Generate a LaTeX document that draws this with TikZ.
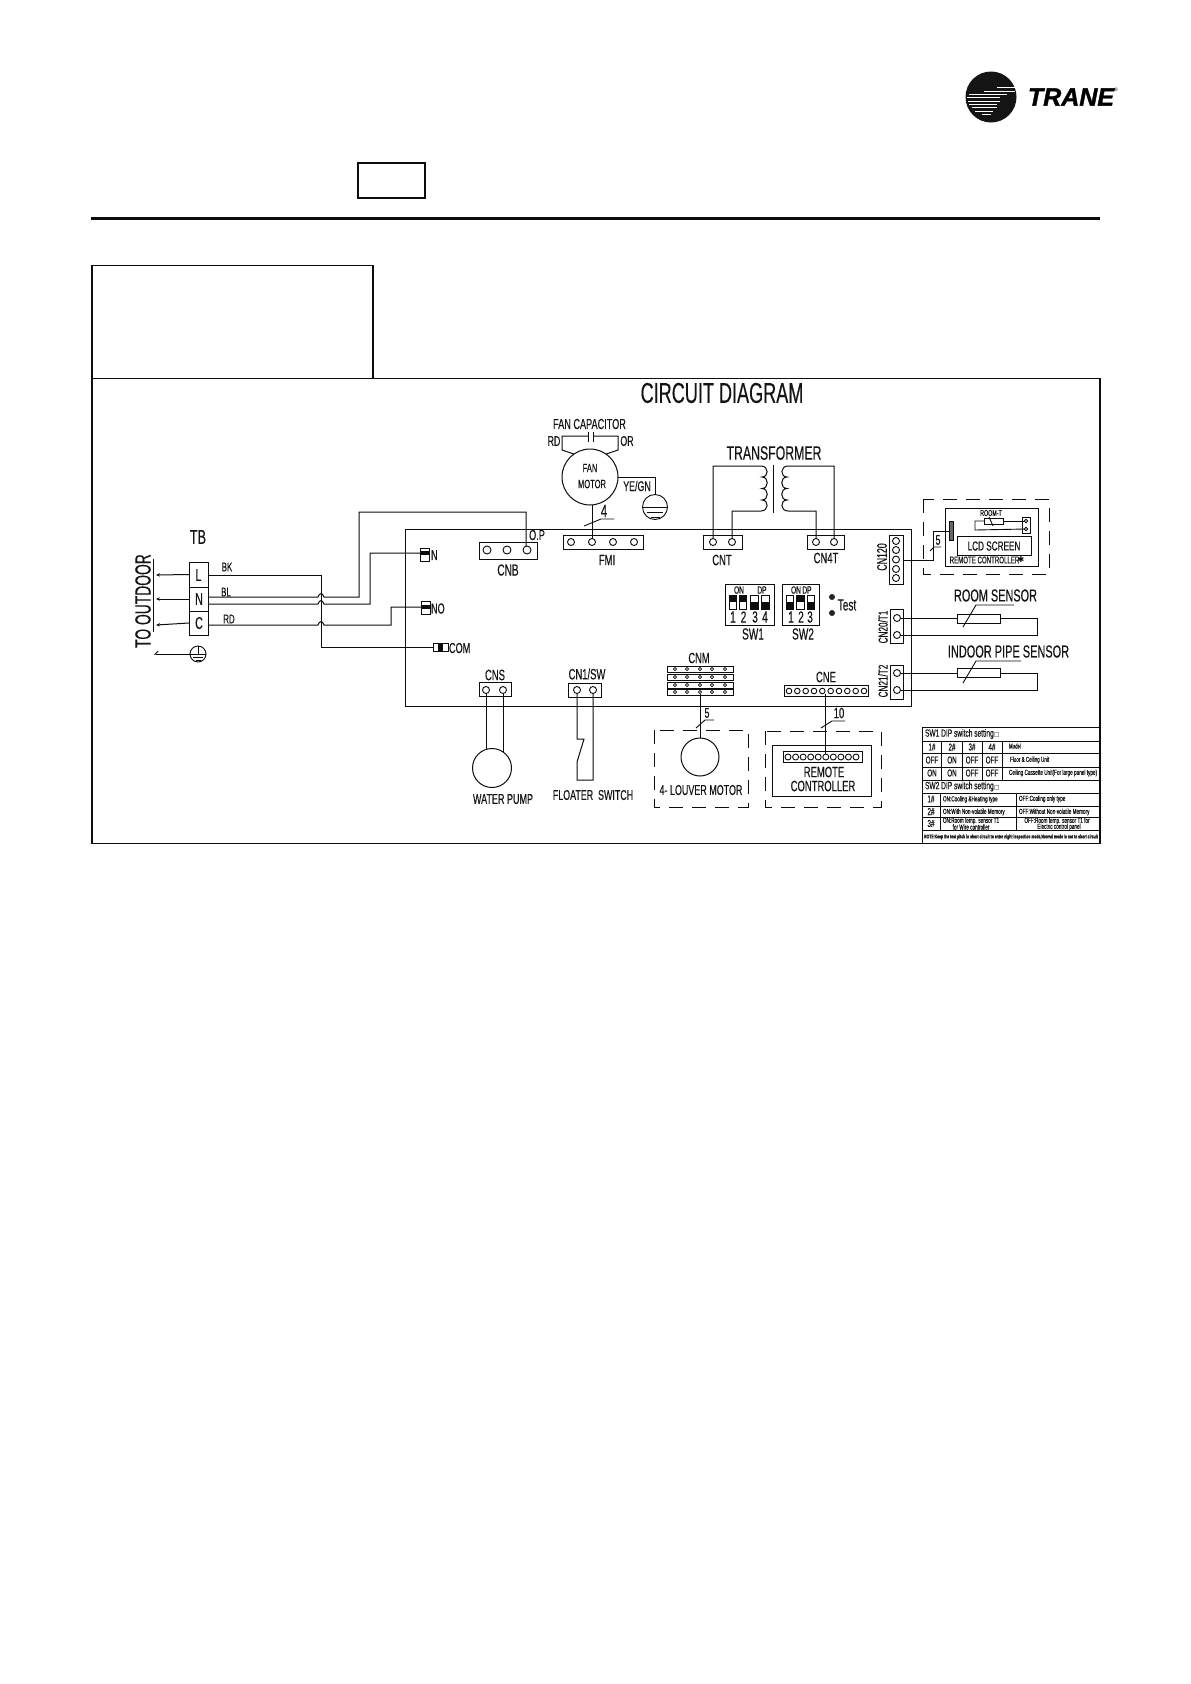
\documentclass[tikz,border=0pt]{standalone}
\usepackage{fontspec}
\usetikzlibrary{arrows.meta}
\setmainfont{Liberation Sans}
\newfontfamily\narrowf[FakeStretch=0.63,FakeBold=0.25]{Liberation Sans}
\newfontfamily\tranef[FakeBold=1.5]{Liberation Sans}
\newfontfamily\symf{DejaVu Sans}
\tikzset{
  lab/.style={inner sep=0pt,outer sep=0pt,font=\narrowf,text=black!92},
  wire/.style={draw=black!95,line width=1pt},
  frame/.style={draw=black!95,line width=1.1pt},
  dashbox/.style={draw=black!95,line width=1pt,dash pattern=on 14pt off 9pt},
  outarrow/.style={wire,-{Stealth[length=4pt,width=3.4pt]}},
  pin/.style={circle,draw=black!95,line width=0.9pt,fill=white,inner sep=0pt,outer sep=0pt},
  tinypin/.style={pin,line width=0.6pt},
  cell/.style={draw=black!95,line width=0.9pt},
  slash/.style={draw=black!95,line width=0.9pt},
  logostripe/.style={draw=white,line width=0.9pt}
}
% text node: [opts]{name}{x}{y}{size}{text}
\newcommand{\tl}[6][]{\node[lab,#1] (#2) at (#3,#4) {\fontsize{#5}{#5}\selectfont #6};}
% box node: [opts]{name}{x1}{y1}{x2}{y2}
\newcommand{\bxn}[6][]{\pgfmathsetmacro\wdbx{#5-#3}\pgfmathsetmacro\htbx{#6-#4}%
  \node[draw=black!95,line width=1pt,inner sep=0pt,outer sep=0pt,minimum width=\wdbx pt,minimum height=\htbx pt,anchor=north west,#1] (#2) at (#3,#4) {};}
% pin node: {name}{x}{y}{diameter}
\newcommand{\pinn}[4]{\node[pin,minimum size=#4pt] (#1) at (#2,#3) {};}
\newcommand{\tpin}[3]{\node[tinypin,minimum size=3.2pt] (#1) at (#2,#3) {};}
\begin{document}
\begin{tikzpicture}[x=1pt,y=-1pt]
\useasboundingbox (0,0) rectangle (1191,1684);
\fill[white] (0,0) rectangle (1191,1684);

% ---------- logo
\node[circle,fill=black!92,minimum size=51pt,inner sep=0pt] (logo) at (991,97) {};
\draw[logostripe,line width=0.6pt] (997,87.5) -- (1015,87.5);
\draw[logostripe,line width=0.7pt] (984,91) -- (1015,91);
\draw[logostripe] (969,94) -- (1007,94);
\draw[logostripe] (967,97.5) -- (1000,97.5);
\draw[logostripe] (968,101) -- (1000,101);
\draw[logostripe] (969,104) -- (997,104);
\draw[logostripe] (972,107.5) -- (997,107.5);
\draw[logostripe,line width=0.7pt] (975,111) -- (993,111);
\draw[logostripe,line width=0.6pt] (982,114) -- (991,114);
\node[inner sep=0pt] (tranetxt) at (1071,97) {\fontsize{25}{25}\selectfont\tranef\bfseries\itshape TRANE};
\node[inner sep=0pt] (tranereg) at (1116,90) {\fontsize{5}{5}\selectfont ®};

% ---------- header
\bxn[line width=1.6pt]{blankbox}{358}{163}{425}{198}
\draw[draw=black!95,line width=3pt] (91,218.5) -- (1100,218.5);

% ---------- frames
\draw[frame] (92,265.7) -- (373,265.7);
\draw[draw=black!95,line width=2pt] (373,265) -- (373,378);
\draw[frame] (92,378.5) -- (1100,378.5) -- (1100,843.5) -- (92,843.5);
\draw[draw=black!95,line width=2pt] (92,265) -- (92,844);
\tl{title}{722}{393}{28.7}{CIRCUIT DIAGRAM}

% ---------- board
\bxn{board}{405}{529}{911}{706}

% ---------- terminal block
\tl{tbtitle}{198}{537}{20}{TB}
\bxn{tbL}{189}{562}{208}{587}
\bxn{tbN}{189}{587}{208}{611}
\bxn{tbC}{189}{611}{208}{635}
\tl{tbLt}{198.5}{575}{17}{L}
\tl{tbNt}{199}{599}{17}{N}
\tl{tbCt}{199}{623}{17}{C}
\tl[rotate=90]{toout}{143}{601}{22}{TO OUTDOOR}
\draw[wire] (153,559) -- (153,632);
\coordinate (outL) at (156,575);
\coordinate (outN) at (156,599);
\coordinate (outC) at (156,625);
\draw[outarrow] (tbL.west) -- (outL);
\draw[outarrow] (tbN.west) -- (outN);
\draw[outarrow] (tbC.west) -- (outC);
\node[pin,minimum size=16pt] (gndtb) at (198,654) {};
\draw[wire,line width=0.9pt] (gndtb.north) -- (gndtb.center);
\draw[wire,line width=0.9pt] (gndtb.west) -- (gndtb.east);
\draw[wire,line width=0.9pt] (193,657.5) -- (203,657.5);
\draw[wire,line width=0.9pt] (195.5,660) -- (200.5,660);
\coordinate (outG) at (154,654);
\draw[wire,-{Straight Barb[length=3pt,width=6pt,harpoon,swap]}] (gndtb.west) -- (outG);
\tl{bk}{227}{567}{12.5}{BK}
\tl{bl}{226}{592}{12.5}{BL}
\tl{rd}{229}{619}{12.5}{RD}

% ---------- relay connectors
\bxn{connN}{420}{548}{429}{561}
\fill[black!95] (420,551) rectangle (429,555);
\tl[anchor=west]{connNt}{431}{555}{14.5}{N}
\bxn{connNO}{421}{601}{430}{614}
\fill[black!95] (421,605) rectangle (430,609);
\tl[anchor=west]{connNOt}{431}{608.5}{14.5}{NO}
\bxn{connCOM}{433}{643}{448}{651}
\fill[black!95] (438,643) rectangle (443,651);
\tl[anchor=west]{connCOMt}{449}{648}{14.5}{COM}

% ---------- CNB
\bxn{cnb}{479}{542}{537}{559}
\pinn{cnbA}{487}{550}{8}
\pinn{cnbB}{507}{550}{8}
\pinn{cnbC}{527}{550}{8}
\tl{cnbt}{508}{570}{16}{CNB}
\tl{opt}{537}{535}{14.5}{O.P}

% ---------- wires from TB
\coordinate (lend) at (208,575);
\coordinate (n1s) at (208,597);
\coordinate (n2s) at (208,604);
\coordinate (cs) at (208,625);
\draw[wire] (tbL.east |- lend) -- (321,575) -- (321,647) -- (connCOM.west);
\draw[wire] (n1s) -- (318,597) .. controls (319.5,592.5) and (322.5,592.5) .. (324,597) -- (359,597) -- (359,512) -- (526,512) -- (526,546) ;
\draw[wire] (n2s) -- (318,604) .. controls (319.5,599.5) and (322.5,599.5) .. (324,604) -- (370,604) -- (370,553) -- (connN.west |- 0,553);
\draw[wire] (cs) -- (318,625) .. controls (319.5,620.5) and (322.5,620.5) .. (324,625) -- (391,625) -- (391,607) -- (connNO.west |- 0,607);

% ---------- fan motor
\tl{fancap}{589.5}{424}{14.5}{FAN CAPACITOR}
\tl{caprd}{554}{441}{14}{RD}
\tl{capor}{627}{441}{14}{OR}
\node[circle,draw=black!95,line width=1pt,minimum size=56pt,inner sep=0pt,outer sep=0pt] (motor) at (590,477) {};
\tl{fanA}{590}{468}{12}{FAN}
\tl{fanB}{592}{484}{12}{MOTOR}
\coordinate (capA) at (588,436);
\coordinate (capB) at (593,436);
\draw[wire] (motor.125) -- (562,450) -- (562,436) -- (capA);
\draw[wire] (motor.55) -- (618,450) -- (618,436) -- (capB);
\draw[wire] (588,432) -- (588,442);
\draw[wire] (593,432) -- (593,442);
\tl{yegn}{637}{486}{14}{YE/GN}
\node[pin,minimum size=25pt] (gndm) at (655,507) {};
\draw[wire] (motor.east) -- (655,477) -- (gndm.north);
\draw[wire,line width=0.9pt] (gndm.west) -- (gndm.east);
\draw[wire,line width=0.9pt] (647,512) -- (663,512);
\draw[wire,line width=0.9pt] (650.5,517) -- (659.5,517);

% ---------- FMI
\bxn{fmi}{563}{535}{643}{549}
\pinn{fmiA}{571}{542}{7}
\pinn{fmiB}{592}{542}{7}
\pinn{fmiC}{613}{542}{7}
\pinn{fmiD}{634}{542}{7}
\tl{fmit}{607}{560}{15}{FMI}
\draw[wire] (motor.south -| fmiB) -- (fmiB);
\draw[slash] (584,526) -- (601,519) -- (614,519);
\tl{four}{604}{511}{18}{4}

% ---------- transformer
\tl{trafo}{774}{453}{19.5}{TRANSFORMER}
\bxn{cnt}{703}{535}{742}{549}
\pinn{cntA}{713}{542}{7}
\pinn{cntB}{732}{542}{7}
\tl{cntt}{722}{560}{15}{CNT}
\bxn{cnft}{807}{535}{844}{549}
\pinn{cnftA}{816}{542}{7}
\pinn{cnftB}{834}{542}{7}
\tl{cnftt}{826}{558}{15}{CN4T}
\draw[wire] (cntA) -- (713,466) -- (761,466)
  .. controls (769,466) and (769,477) .. (762,477)
  .. controls (769,477) and (769,488.5) .. (762,488.5)
  .. controls (769,488.5) and (769,500) .. (762,500)
  .. controls (769,500) and (769,511) .. (761,511)
  -- (732,511) -- (cntB);
\draw[wire] (cnftB) -- (834,466) -- (788,466)
  .. controls (780,466) and (780,477) .. (787,477)
  .. controls (780,477) and (780,488.5) .. (787,488.5)
  .. controls (780,488.5) and (780,500) .. (787,500)
  .. controls (780,500) and (780,511) .. (788,511)
  -- (816,511) -- (cnftA);
\draw[wire] (773,465) -- (773,513);

% ---------- SW1
\bxn{swa}{725}{584}{774}{625}
\tl{swaon}{739}{590}{10.5}{ON}
\tl{swadp}{762}{590}{10.5}{DP}
\bxn[line width=0.8pt]{swaA}{729}{595}{736}{609}
\bxn[line width=0.8pt]{swaB}{739}{595}{746}{609}
\bxn[line width=0.8pt]{swaC}{750}{595}{758}{609}
\bxn[line width=0.8pt]{swaD}{761}{595}{769}{609}
\fill[black!95] (729,595) rectangle (736,602);
\fill[black!95] (739,595) rectangle (746,602);
\fill[black!95] (750,602) rectangle (758,609);
\fill[black!95] (761,602) rectangle (769,609);
\tl{swan1}{733}{617}{16}{1}
\tl{swan2}{743.5}{617}{16}{2}
\tl{swan3}{755}{617}{16}{3}
\tl{swan4}{765}{617}{16}{4}
\tl{swat}{753}{634}{16}{SW1}

% ---------- SW2
\bxn{swb}{782}{584}{819}{625}
\tl{swbon}{796}{590}{10.5}{ON}
\tl{swbdp}{807}{590}{10.5}{DP}
\bxn[line width=0.8pt]{swbA}{786}{595}{793}{609}
\bxn[line width=0.8pt]{swbB}{796}{595}{804}{609}
\bxn[line width=0.8pt]{swbC}{807}{595}{814}{609}
\fill[black!95] (786,602) rectangle (793,609);
\fill[black!95] (796,595) rectangle (804,602);
\fill[black!95] (807,602) rectangle (814,609);
\tl{swbn1}{791}{617}{16}{1}
\tl{swbn2}{801}{617}{16}{2}
\tl{swbn3}{810}{617}{16}{3}
\tl{swbt}{803}{634}{16}{SW2}
\node[circle,fill=black!85,minimum size=6pt,inner sep=0pt] (testA) at (832,597) {};
\node[circle,fill=black!85,minimum size=6pt,inner sep=0pt] (testB) at (832,613) {};
\tl{testt}{847}{605}{16}{Test}

% ---------- CN120 and LCD remote
\bxn{cnot}{889}{535}{903}{584}
\pinn{cnotA}{896}{541}{7}
\pinn{cnotB}{896}{550}{7}
\pinn{cnotC}{896}{559.5}{7}
\pinn{cnotD}{896}{569}{7}
\pinn{cnotE}{896}{578}{7}
\tl[rotate=90]{cnott}{882}{557}{14}{CN120}
\draw[dashbox] (923,499) rectangle (1049,574);
\bxn{lcdbox}{945}{508}{1038}{566}
\bxn{lcd}{957}{536}{1031}{555}
\tl{lcdt}{994}{546}{13}{LCD SCREEN}
\tl{remc}{984.5}{560}{9.7}{REMOTE CONTROLLER}
\node[inner sep=0pt] (remstar) at (1021,560) {\fontsize{8}{8}\selectfont\symf ✱};
\bxn[fill=black!60,line width=0.6pt]{lcdconn}{949}{521}{953}{540}
\draw[wire] (cnot.east |- 0,560) -- (933,560) -- (933,531) -- (lcdconn.west |- 0,531);
\draw[slash] (930,551) -- (934,547) -- (941,547);
\tl{fivea}{938}{540}{14}{5}
\tl{roomt}{991}{513}{8.5}{ROOM-T}
\bxn[line width=0.9pt]{thm}{984}{518}{1003}{524}
\bxn[line width=0.8pt]{thmc}{1022}{517}{1030}{533}
\pinn{thmcA}{1026}{521}{3.6}
\pinn{thmcB}{1026}{529}{3.6}
\draw[wire,line width=0.9pt] (thm.west) -- (975,521) -- (975,530) -- (thmcB);
\draw[wire,line width=0.9pt] (thm.east) -- (thmcA);
\draw[slash] (989,517) -- (993,526);

% ---------- room sensor
\tl{roomst}{995.5}{595.5}{17.3}{ROOM SENSOR}
\bxn{cnta}{890}{609}{903}{643}
\pinn{cntaA}{897}{618}{7}
\pinn{cntaB}{897}{635}{7}
\tl[rotate=90]{cntat}{883}{627}{13}{CN20/T1}
\bxn{rsens}{957}{614}{1000}{623}
\draw[wire] (cntaA) -- (rsens.west |- cntaA);
\draw[wire] (rsens.east |- cntaA) -- (1037,618) -- (1037,635) -- (cntaB);
\draw[slash] (1014,605) -- (976,605) -- (963,627);

% ---------- pipe sensor
\tl{pipest}{1008.5}{651.5}{17.4}{INDOOR PIPE SENSOR}
\bxn{cntb}{890}{665}{903}{699}
\pinn{cntbA}{897}{673}{7}
\pinn{cntbB}{897}{690}{7}
\tl[rotate=90]{cntbt}{883}{681}{13}{CN21/T2}
\bxn{psens}{957}{668}{1000}{677}
\draw[wire] (cntbA) -- (psens.west |- cntbA);
\draw[wire] (psens.east |- cntbA) -- (1037,673) -- (1037,690) -- (cntbB);
\draw[slash] (1021,661) -- (976,661) -- (963,683);

% ---------- CNS / pump
\bxn{cns}{479}{682}{511}{696}
\pinn{cnsA}{486}{690}{7}
\pinn{cnsB}{503}{690}{7}
\tl{cnst}{495}{675}{15}{CNS}
\node[circle,draw=black!95,line width=1pt,minimum size=39pt,inner sep=0pt,outer sep=0pt] (pump) at (492,768) {};
\draw[wire] (cnsA) -- (486,749.5);
\draw[wire] (cnsB) -- (503,752);
\tl{pumpt}{503}{799}{14.3}{WATER PUMP}

% ---------- floater
\bxn{cnsw}{568}{683}{601}{697}
\pinn{cnswA}{577}{690}{7}
\pinn{cnswB}{593}{690}{7}
\tl{cnswt}{587}{674}{15}{CN1/SW}
\draw[wire] (cnswA) -- (577,739) -- (584,739) -- (577,762) -- (577,780) -- (593,780) -- (cnswB);
\tl{floatt}{593}{795}{14.1}{FLOATER\ \ SWITCH}

% ---------- CNM / louver
\bxn[line width=0.8pt]{cnmA}{667}{666}{733}{672}
\bxn[line width=0.8pt]{cnmB}{667}{674}{733}{680}
\bxn[line width=0.8pt]{cnmC}{667}{682}{733}{688}
\bxn[line width=0.8pt]{cnmD}{667}{689}{733}{695}
\tpin{mA1}{675}{669}\tpin{mA2}{687}{669}\tpin{mA3}{700}{669}\tpin{mA4}{712}{669}\tpin{mA5}{725}{669}
\tpin{mB1}{675}{677}\tpin{mB2}{687}{677}\tpin{mB3}{700}{677}\tpin{mB4}{712}{677}\tpin{mB5}{725}{677}
\tpin{mC1}{675}{685}\tpin{mC2}{687}{685}\tpin{mC3}{700}{685}\tpin{mC4}{712}{685}\tpin{mC5}{725}{685}
\tpin{mD1}{675}{692}\tpin{mD2}{687}{692}\tpin{mD3}{700}{692}\tpin{mD4}{712}{692}\tpin{mD5}{725}{692}
\tl{cnmt}{699}{658}{14.8}{CNM}
\node[circle,draw=black!95,line width=1pt,minimum size=38pt,inner sep=0pt,outer sep=0pt] (louver) at (700,757) {};
\draw[wire] (mD3) -- (louver.north);
\draw[slash] (696,728) -- (705,720) -- (714,720);
\tl{fiveb}{707}{713}{14}{5}
\draw[dashbox] (654,730) rectangle (748,807);
\tl{louvt}{701}{790}{14.2}{4- LOUVER MOTOR}

% ---------- CNE / remote
\bxn{cne}{784}{685}{868}{696}
\pinn{eA}{789}{691}{5.6}\pinn{eB}{797.3}{691}{5.6}\pinn{eC}{805.7}{691}{5.6}\pinn{eD}{814}{691}{5.6}\pinn{eE}{822.3}{691}{5.6}
\pinn{eF}{830.7}{691}{5.6}\pinn{eG}{839}{691}{5.6}\pinn{eH}{847.3}{691}{5.6}\pinn{eI}{855.7}{691}{5.6}\pinn{eJ}{864}{691}{5.6}
\tl{cnet}{826}{677}{15}{CNE}
\draw[dashbox] (765,731) rectangle (881,807);
\bxn{remb}{772}{745}{871}{796}
\bxn{rems}{783}{751}{862}{762}
\pinn{rA}{788}{757}{6}\pinn{rB}{795.6}{757}{6}\pinn{rC}{803.1}{757}{6}\pinn{rD}{810.7}{757}{6}\pinn{rE}{818.2}{757}{6}
\pinn{rF}{825.8}{757}{6}\pinn{rG}{833.3}{757}{6}\pinn{rH}{840.9}{757}{6}\pinn{rI}{848.4}{757}{6}\pinn{rJ}{856}{757}{6}
\draw[wire] (825.3,693.8) -- (825.3,754);
\draw[slash] (821,728) -- (832,721) -- (845,721);
\tl{ten}{839}{713}{15}{10}
\tl{remt}{824}{772}{15}{REMOTE}
\tl{cont}{823}{786}{15}{CONTROLLER}

% ---------- DIP table
\draw[cell] (922,727) -- (1100,727);
\draw[cell] (922,727) -- (922,843);
\draw[cell] (922,741) -- (1100,741);
\draw[cell] (922,753) -- (1100,753);
\draw[cell] (922,767) -- (1100,767);
\draw[cell] (922,780) -- (1100,780);
\draw[cell] (922,793) -- (1100,793);
\draw[cell] (922,806) -- (1100,806);
\draw[cell] (922,817) -- (1100,817);
\draw[cell] (922,830) -- (1100,830);
\draw[cell] (941,741) -- (941,780);
\draw[cell] (962,741) -- (962,780);
\draw[cell] (982,741) -- (982,780);
\draw[cell] (1002,741) -- (1002,780);
\draw[cell] (940,793) -- (940,830);
\draw[cell] (1016,793) -- (1016,830);
\tl[anchor=west]{dipa}{925}{734}{10.5}{SW1 DIP switch setting{\symf\fontsize{6}{6}\selectfont □}}
\tl{h1}{932}{747}{10}{1\#}
\tl{h2}{952}{747}{10}{2\#}
\tl{h3}{972}{747}{10}{3\#}
\tl{h4}{992}{747}{10}{4\#}
\tl[anchor=west]{hm}{1009}{746}{7}{Model}
\tl{ra}{932}{760}{10}{OFF}
\tl{rb}{952}{760}{10}{ON}
\tl{rc}{972}{760}{10}{OFF}
\tl{rd4}{992}{760}{10}{OFF}
\tl[anchor=west]{rm}{1010}{760}{7.2}{Floor \& Ceiling Unit}
\tl{sa}{932}{773}{10}{ON}
\tl{sb}{952}{773}{10}{ON}
\tl{sc}{972}{773}{10}{OFF}
\tl{sd}{992}{773}{10}{OFF}
\tl[anchor=west]{sm}{1009}{773}{7.4}{Ceiling Cassette Unit(For large panel type)}
\tl[anchor=west]{dipb}{925}{786.5}{10.5}{SW2 DIP switch setting{\symf\fontsize{6}{6}\selectfont □}}
\tl{t1}{931}{799}{10}{1\#}
\tl[anchor=west]{t1a}{943}{799.5}{7.4}{ON:Cooling \&Heating type}
\tl[anchor=west]{t1b}{1019}{799}{7.4}{OFF:Cooling only type}
\tl{t2}{931}{811.5}{10}{2\#}
\tl[anchor=west]{t2a}{943}{812}{7.4}{ON:With Non-volatile Memory}
\tl[anchor=west]{t2b}{1019}{812}{7.4}{OFF:Without Non-volatile Memory}
\tl{t3}{931}{823.5}{10}{3\#}
\tl{t3a}{971}{821}{7.4}{ON:Room temp. sensor T1}
\tl{t3c}{971}{827}{7.4}{for Wire controller}
\tl{t3b}{1057}{821}{7.4}{OFF:Room temp. sensor T1 for}
\tl{t3d}{1059}{827}{7.4}{Electric control panel}
\tl{note}{1011}{837}{5.4}{\bfseries NOTE:Keep the test pitch in short circuit to enter night inspection mode,Normal mode is not to short circuit}
\end{tikzpicture}
\end{document}
